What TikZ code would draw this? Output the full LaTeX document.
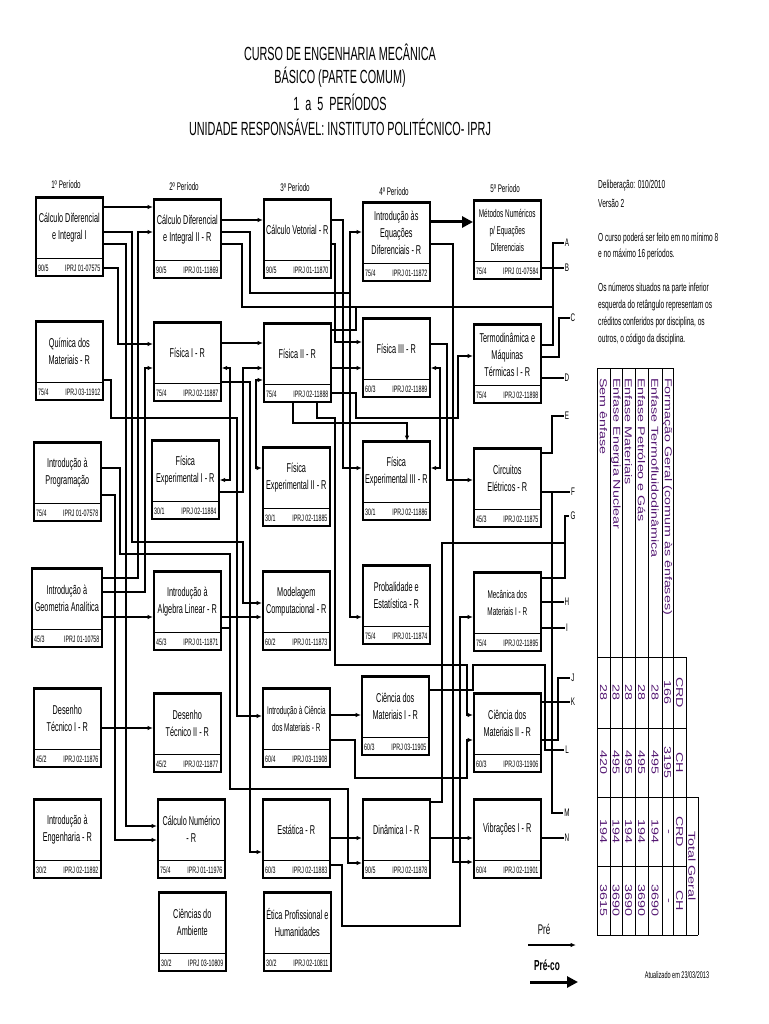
\documentclass[tikz,border=0pt]{standalone}
\usepackage{fontspec}
\usetikzlibrary{arrows.meta}
\setmainfont{Liberation Sans}
\newfontfamily\nar[FakeStretch=0.57]{Liberation Sans}
\newfontfamily\tbl[FakeStretch=1.43]{Liberation Sans}
\definecolor{tblc}{RGB}{85,25,115}
\newcommand\sm{\fontsize{11.2}{14.5}\selectfont}
\newcommand\disc[7][]{%
  \node[dbox,#1] (#2) at (#3,#4) {};
  \draw[footline] ([yshift=-61pt]#2.north west) -- ([yshift=-61pt]#2.north east);
  \draw[topline] (#2.north west) -- (#2.north east);
  \node[dtext] at ([yshift=-30.5pt]#2.north) {#5};
  \node[ftext,anchor=west] at ([xshift=3pt,yshift=8.5pt]#2.south west) {#6};
  \node[ftext,anchor=east] at ([xshift=-3pt,yshift=8.5pt]#2.south east) {#7};
}
\begin{document}
\begin{tikzpicture}[x=1pt,y=-1pt,
 dbox/.style={draw, line width=1.6pt, fill=white, minimum width=67pt, minimum height=78pt, anchor=north west, inner sep=0pt},
 topline/.style={line width=2.8pt},
 footline/.style={line width=1pt},
 dtext/.style={font=\nar\fontsize{12.8}{17}\selectfont, align=center, inner sep=0pt},
 ftext/.style={font=\nar\fontsize{9.3}{10}\selectfont, inner sep=0pt},
 pre/.style={line width=1.1pt, -{Latex[length=5.5pt,width=4.5pt]}},
 dbl/.style={line width=1.1pt, {Latex[length=5.5pt,width=4.5pt]}-{Latex[length=5.5pt,width=4.5pt]}},
 ln/.style={line width=1.1pt},
 preco/.style={line width=3pt, -{Triangle[length=11pt,width=11pt]}},
 lett/.style={font=\nar\fontsize{11}{12}\selectfont, inner sep=1pt},
 per/.style={font=\nar\fontsize{11}{12}\selectfont, inner sep=0pt},
 ttl/.style={font=\nar\fontsize{19}{20}\selectfont, inner sep=0pt},
 note/.style={font=\nar\fontsize{11.6}{13}\selectfont, anchor=west, inner sep=0pt},
 tgrid/.style={line width=0.8pt},
 thead/.style={font=\tbl\fontsize{10}{11}\selectfont, text=tblc, rotate=-90, inner sep=0pt},
]
\useasboundingbox (0,0) rectangle (768,1024);
\fill[white] (0,0) rectangle (768,1024);

% title
\node[ttl] (t1) at (340,52) {CURSO DE ENGENHARIA MECÂNICA};
\node[ttl] (t2) at (340,77) {BÁSICO (PARTE COMUM)};
\node[ttl] (t3) at (340,102) {1~~a~~5~~PERÍODOS};
\node[ttl] (t4) at (340,127) {UNIDADE RESPONSÁVEL: INSTITUTO POLITÉCNICO- IPRJ};

% periods
\node[per] (p1) at (66,185) {1º Período};
\node[per] (p2) at (184,187) {2º Período};
\node[per] (p3) at (295,188) {3º Período};
\node[per] (p4) at (394,192) {4º Período};
\node[per] (p5) at (505,189) {5º Período};

% column 1
\disc{calcI}{35}{197}{Cálculo Diferencial\\e Integral I}{90/5}{IPRJ 01-07575}
\disc{quim}{35}{321}{Química dos\\Materiais - R}{75/4}{IPRJ 03-11912}
\disc{prog}{33}{442}{Introdução à\\Programação}{75/4}{IPRJ 01-07578}
\disc[minimum width=70pt]{geom}{31}{568}{Introdução à\\Geometria Analítica}{45/3}{IPRJ 01-10758}
\disc{desI}{33}{688}{Desenho\\Técnico I - R}{45/2}{IPRJ 02-11876}
\disc{ieng}{33}{799}{Introdução à\\Engenharia - R}{30/2}{IPRJ 02-11892}
% column 2
\disc{calcII}{153}{199}{Cálculo Diferencial\\e Integral II - R}{90/5}{IPRJ 01-11869}
\disc{fisI}{153}{322}{Física I - R}{75/4}{IPRJ 02-11887}
\disc{fexI}{151}{440}{Física\\Experimental I - R}{30/1}{IPRJ 02-11884}
\disc{alg}{153}{571}{Introdução à\\Algebra Linear - R}{45/3}{IPRJ 01-11871}
\disc{desII}{153}{693}{Desenho\\Técnico II - R}{45/2}{IPRJ 02-11877}
\disc{cnum}{157}{799}{Cálculo Numérico\\- R}{75/4}{IPRJ 01-11976}
\disc{camb}{158}{892}{Ciências do\\Ambiente}{30/2}{IPRJ 03-10809}
% column 3
\disc{cvet}{263}{199}{Cálculo Vetorial - R}{90/5}{IPRJ 01-11870}
\disc{fisII}{263}{323}{Física II - R}{75/4}{IPRJ 02-11888}
\disc{fexII}{262}{447}{Física\\Experimental II - R}{30/1}{IPRJ 02-11885}
\disc{model}{262}{571}{Modelagem\\Computacional - R}{60/2}{IPRJ 01-11873}
\disc{icm}{262}{688}{\sm Introdução à Ciência\\\sm dos Materiais - R}{60/4}{IPRJ 03-11908}
\disc{estat}{262}{799}{Estática - R}{60/3}{IPRJ 02-11883}
\disc{etica}{263}{892}{Ética Profissional e\\Humanidades}{30/2}{IPRJ 02-10811}
% column 4
\disc{eqdif}{362}{202}{Introdução às\\Equações\\Diferenciais - R}{75/4}{IPRJ 01-11872}
\disc{fisIII}{362}{318}{Física III - R}{60/3}{IPRJ 02-11889}
\disc{fexIII}{362}{441}{Física\\Experimental III - R}{30/1}{IPRJ 02-11886}
\disc{prob}{362}{565}{Probalidade e\\Estatística - R}{75/4}{IPRJ 01-11874}
\disc{cmI}{361}{676}{Ciência dos\\Materiais I - R}{60/3}{IPRJ 03-11905}
\disc{din}{362}{799}{Dinâmica I - R}{90/5}{IPRJ 02-11878}
% column 5
\disc{met}{473}{200}{\sm Métodos Numéricos\\\sm p/ Equações\\\sm Diferenciais}{75/4}{IPRJ 01-07584}
\disc{termo}{473}{324}{Termodinâmica e\\Máquinas\\Térmicas I - R}{75/4}{IPRJ 02-11898}
\disc{circ}{473}{448}{Circuitos\\Elétricos - R}{45/3}{IPRJ 02-11875}
\disc{mecI}{473}{572}{\sm Mecânica dos\\\sm Materiais I - R}{75/4}{IPRJ 02-11895}
\disc{cmII}{473}{693}{Ciência dos\\Materiais II - R}{60/3}{IPRJ 03-11906}
\disc{vib}{473}{799}{Vibrações I - R}{60/4}{IPRJ 02-11901}

% continuation letters
\node[lett] (lA) at (567,243) {A};
\node[lett] (lB) at (567,268) {B};
\node[lett] (lC) at (573,318) {C};
\node[lett] (lD) at (567,378) {D};
\node[lett] (lE) at (567,416) {E};
\node[lett] (lF) at (573,492) {F};
\node[lett] (lG) at (573,516) {G};
\node[lett] (lH) at (567,602) {H};
\node[lett] (lI) at (567,628) {I};
\node[lett] (lJ) at (573,678) {J};
\node[lett] (lK) at (573,702) {K};
\node[lett] (lL) at (567,750) {L};
\node[lett] (lM) at (567,813) {M};
\node[lett] (lN) at (567,838) {N};

% connectors: column 1
\draw[pre] (calcI.east|-0,207) -- (calcII.west|-0,207);
\draw[pre] (calcI.east|-0,232) -| (132,542) -| (243,603) -- (model.west|-0,603);
\draw[pre] (geom.east|-0,578) -| (138,232) -- (calcII.west|-0,232);
\draw[pre] (calcI.east|-0,244) -| (126,826) -- (cnum.west|-0,826);
\draw[pre] (calcI.east|-0,268) -| (118,344) -- (fisI.west|-0,344);
\draw[pre] (geom.east|-0,592) -| (145,368) -- (fisI.west|-0,368);
\draw[pre] (geom.east|-0,617) -- (alg.west|-0,617);
\draw[pre] (quim.east|-0,380) -| (111,418) -| (237,716) -- (icm.west|-0,716);
\draw[pre] (prog.east|-0,468) -| (120,554) -| (230,789) -| (348,863) -- (din.west|-0,863);
\draw[pre] (prog.east|-0,495) -| (115,840) -- (cnum.west|-0,840);
\draw[pre] (desI.east|-0,728) -- (desII.west|-0,728);
% column 2
\draw[ln] (alg.east|-0,628) -- (230,628);
\draw[pre] (alg.east|-0,617) -- (model.west|-0,617);
\draw[pre] (calcII.east|-0,220) -- (cvet.west|-0,220);
\draw[pre] (calcII.east|-0,232) -| (250,293) -| (350,232) -- (eqdif.west|-0,232);
\draw[pre] (350,293) |- (prob.west|-0,617);
\draw[ln] (calcII.east|-0,244) -| (242,307) -| (553,243) -- (lA.west);
\draw[pre] (fisI.east|-0,343) -- (fisII.west|-0,343);
\draw[dbl] (fisI.east|-0,368) -| (230,480) -- (fexI.east|-0,480);
\draw[pre] (fisI.east|-0,382) -| (250,852) -- (estat.west|-0,852);
\draw[pre] (fexI.east|-0,492) -| (243,368) -- (fisII.west|-0,368);
\draw[dbl] (fisII.west|-0,380) -| (256,468) -- (fexII.west|-0,468);
% column 3
\draw[pre] (cvet.east|-0,244) -| (335,342) -- (fisIII.west|-0,342);
\draw[pre] (cvet.east|-0,220) -| (343,468) -- (fexIII.west|-0,468);
\draw[ln] (fisII.east|-0,330) -| (356,307);
\draw[pre] (fisII.east|-0,368) -- (fisIII.west|-0,368);
\draw[pre] (fisII.east|-0,393) -| (356,418) -| (458,356) -- (termo.west|-0,356);
\draw[pre] (fisII.south-|293,0) |- (407,423) -- (fexIII.north-|407,0);
\draw[pre] (fisII.south-|317,0) |- (335,418) |- (467,665) |- (cmII.west|-0,715);
\draw[pre] (estat.east|-0,865) -| (342,926) -| (460,617) -- (mecI.west|-0,617);
\draw[pre] (estat.east|-0,838) -- (din.west|-0,838);
\draw[pre] (icm.east|-0,715) -- (cmI.west|-0,715);
\draw[pre] (icm.east|-0,740) -| (355,778) -| (467,740) -- (cmII.west|-0,740);
% column 4
\draw[preco] (eqdif.east|-0,222) -- (met.west|-0,222);
\draw[pre] (eqdif.east|-0,244) -| (453,862) -- (vib.west|-0,862);
\draw[pre] (fisIII.east|-0,344) -| (447,480) -- (circ.west|-0,480);
\draw[dbl] (fisIII.east|-0,368) -| (440,468) -- (fexIII.east|-0,468);
\draw[ln] (din.east|-0,802) -| (442,543) -| (565,516) -- (lG.west);
\draw[pre] (din.east|-0,838) -- (vib.west|-0,838);
\draw[ln] (cmI.east|-0,690) -| (473,665) -| (545,750) -- (lL.west);
% column 5
\draw[ln] (met.east|-0,268) -- (lB.west);
\draw[ln] (termo.east|-0,345) -| (553,307);
\draw[ln] (termo.east|-0,357) -| (559,318) -- (lC.west);
\draw[ln] (termo.east|-0,378) -- (lD.west);
\draw[ln] (circ.east|-0,453) -| (552,416) -- (lE.west);
\draw[ln] (circ.east|-0,492) -- (lF.west);
\draw[ln] (552,492) |- (lM.west);
\draw[ln] (mecI.east|-0,578) -| (565,543);
\draw[ln] (mecI.east|-0,602) -- (lH.west);
\draw[ln] (mecI.east|-0,628) -- (lI.west);
\draw[ln] (cmII.east|-0,740) -| (558,678) -- (lJ.west);
\draw[ln] (cmII.east|-0,702) -- (lK.west);
\draw[ln] (vib.east|-0,838) -- (lN.west);

% notes
\node[note] (n1) at (598,186) {Deliberação: 010/2010};
\node[note] (n2) at (598,203) {Versão 2};
\node[note] (n3) at (598,238) {O curso poderá ser feito em no mínimo 8};
\node[note] (n4) at (598,254) {e no máximo 16 períodos.};
\node[note] (n5) at (598,288) {Os números situados na parte inferior};
\node[note] (n6) at (598,305) {esquerda do retângulo representam os};
\node[note] (n7) at (598,322) {créditos conferidos por disciplina, os};
\node[note] (n8) at (598,339) {outros, o código da disciplina.};

% table
\foreach \x in {597,610,622,635,648,662,673} \draw[tgrid] (\x,368) -- (\x,935);
\draw[tgrid] (686,657) -- (686,935);
\draw[tgrid] (698,797) -- (698,935);
\draw[tgrid] (597,368) -- (673,368);
\draw[tgrid] (597,657) -- (686,657);
\draw[tgrid] (597,728) -- (686,728);
\draw[tgrid] (597,797) -- (698,797);
\draw[tgrid] (597,866) -- (686,866);
\draw[tgrid] (597,935) -- (698,935);
\node[thead,anchor=west] (h1) at (667.5,378) {Formação Geral (comum às ênfases)};
\node[thead,anchor=west] (h2) at (655,378) {Enfase Termofluidodinâmica};
\node[thead,anchor=west] (h3) at (641.5,378) {Enfase Petróleo e Gás};
\node[thead,anchor=west] (h4) at (628.5,378) {Enfase Materiais};
\node[thead,anchor=west] (h5) at (616,378) {Enfase Energia Nuclear};
\node[thead,anchor=west] (h6) at (603.5,378) {Sem ênfase};
\node[thead] (k1) at (679.5,692.5) {CRD};
\node[thead] (k2) at (679.5,762.5) {CH};
\node[thead] (k3) at (679.5,831.5) {CRD};
\node[thead] (k4) at (679.5,900.5) {CH};
\node[thead] (k5) at (692,866) {Total Geral};
\foreach \xx/\a/\b/\c/\d in {667.5/166/3195/-/-, 655/28/495/194/3690, 641.5/28/495/194/3690, 628.5/28/495/194/3690, 616/28/495/194/3690, 603.5/28/420/194/3615}{
  \node[thead] at (\xx,692.5) {\a};
  \node[thead] at (\xx,762.5) {\b};
  \node[thead] at (\xx,831.5) {\c};
  \node[thead] at (\xx,900.5) {\d};
}

% legend
\node[font=\nar\fontsize{14}{15}\selectfont, inner sep=0pt] (lpre) at (544,929) {Pré};
\coordinate (a1) at (528,945);
\coordinate (a2) at (576,945);
\draw[pre] (a1) -- (a2);
\node[font=\nar\bfseries\fontsize{14.5}{15}\selectfont, inner sep=0pt] (lpreco) at (547,965) {Pré-co};
\coordinate (b1) at (530,982);
\coordinate (b2) at (578,982);
\draw[preco] (b1) -- (b2);
\node[font=\nar\fontsize{9.7}{10}\selectfont, inner sep=0pt] (upd) at (677,975) {Atualizado em 23/03/2013};
\end{tikzpicture}
\end{document}
